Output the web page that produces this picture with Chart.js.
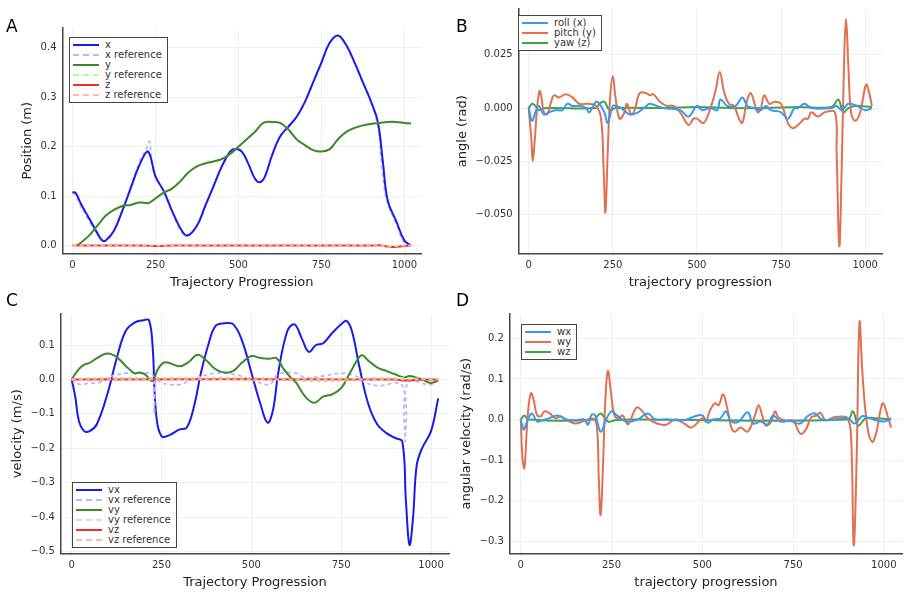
<!DOCTYPE html>
<html>
<head>
<meta charset="utf-8">
<script src="https://cdn.jsdelivr.net/npm/chart.js@4"></script>
<style>
  body { margin: 0; background: #fff; font-family: "DejaVu Sans", sans-serif; }
  #wrap { position: relative; width: 906px; height: 594px; }
  .panel { position: absolute; }
  .letter { position: absolute; font-size: 17px; color: #000; }
  .legend { position: absolute; border: 1px solid #444; background: #fff; padding: 2px 5px 2px 3px; font-size: 10px; color: #333; line-height: 10px; }
  .legend .row { display: flex; align-items: center; white-space: nowrap; }
  .legend .sw { width: 26px; margin-right: 6px; height: 0; }
</style>
</head>
<body>
<div id="wrap">
  <div class="panel" style="left:0;top:0;width:453px;height:294px"><canvas id="chartA"></canvas></div>
  <div class="panel" style="left:453px;top:0;width:453px;height:294px"><canvas id="chartB"></canvas></div>
  <div class="panel" style="left:0;top:294px;width:453px;height:300px"><canvas id="chartC"></canvas></div>
  <div class="panel" style="left:453px;top:294px;width:453px;height:300px"><canvas id="chartD"></canvas></div>
  <div class="letter" style="left:6px;top:16px">A</div>
  <div class="letter" style="left:456px;top:16px">B</div>
  <div class="letter" style="left:6px;top:290px">C</div>
  <div class="letter" style="left:456px;top:290px">D</div>
  <div class="legend" id="legA" style="left:69px;top:37px"></div>
  <div class="legend" id="legB" style="left:518px;top:15px"></div>
  <div class="legend" id="legC" style="left:72px;top:482px"></div>
  <div class="legend" id="legD" style="left:521px;top:324px"></div>
</div>
<script>
// ---- data: [trajectory index, value] ----
const xPos = [[0,0.108],[10,0.106],[25,0.085],[50,0.055],[75,0.025],[90,0.01],[100,0.01],[125,0.03],[150,0.07],[175,0.115],[200,0.16],[225,0.19],[235,0.18],[250,0.14],[275,0.11],[300,0.07],[325,0.035],[345,0.02],[375,0.04],[400,0.08],[425,0.12],[450,0.16],[475,0.19],[490,0.195],[510,0.19],[530,0.165],[550,0.135],[565,0.128],[580,0.14],[600,0.18],[625,0.22],[650,0.24],[675,0.26],[700,0.29],[725,0.33],[750,0.37],[775,0.41],[800,0.425],[825,0.405],[850,0.37],[875,0.33],[900,0.29],[920,0.25],[935,0.17],[950,0.09],[975,0.05],[1000,0.01],[1020,0.0]];
const xRef = [[0,0.108],[10,0.1],[25,0.08],[50,0.05],[75,0.022],[90,0.01],[100,0.01],[125,0.03],[150,0.07],[175,0.118],[200,0.165],[225,0.2],[232,0.21],[240,0.16],[250,0.14],[275,0.108],[300,0.068],[325,0.032],[345,0.02],[375,0.04],[400,0.08],[425,0.12],[450,0.16],[475,0.19],[490,0.195],[510,0.19],[530,0.165],[550,0.135],[565,0.128],[580,0.14],[600,0.18],[625,0.22],[650,0.24],[675,0.26],[700,0.29],[725,0.33],[750,0.37],[775,0.41],[800,0.425],[825,0.405],[850,0.37],[875,0.33],[900,0.29],[920,0.24],[935,0.14],[950,0.085],[975,0.045],[1000,0.005],[1020,0.0]];
const yPos = [[15,0],[50,0.02],[75,0.04],[100,0.06],[125,0.072],[150,0.08],[175,0.082],[200,0.087],[230,0.086],[250,0.095],[275,0.107],[300,0.115],[325,0.13],[350,0.148],[375,0.16],[400,0.166],[425,0.17],[450,0.175],[475,0.185],[500,0.2],[525,0.215],[550,0.23],[575,0.248],[600,0.25],[625,0.248],[650,0.235],[675,0.215],[700,0.203],[725,0.193],[750,0.19],[775,0.195],[800,0.215],[825,0.23],[850,0.238],[875,0.243],[900,0.246],[925,0.248],[950,0.25],[975,0.25],[1000,0.248],[1020,0.247]];
const yRef = yPos;
const zPos = [[0,0],[200,0],[260,-0.001],[300,0],[900,0],[930,0],[960,-0.003],[1000,-0.001],[1020,0]];
const zRef = [[0,0],[300,0],[920,0],[960,-0.002],[1000,0],[1020,0]];

const roll = [[0,0],[10,-0.006],[20,-0.002],[30,0.001],[45,-0.003],[60,-0.002],[80,-0.001],[100,-0.001],[115,0.002],[130,0.001],[155,0.001],[170,0],[180,-0.002],[200,0.003],[210,0.002],[225,-0.002],[235,-0.007],[250,0.001],[260,0.001],[275,0],[300,-0.003],[325,-0.002],[350,0.001],[360,0.002],[400,0],[450,-0.001],[475,-0.004],[500,0.001],[515,-0.001],[540,0],[560,-0.001],[570,0.004],[590,0.001],[615,0.001],[635,0.005],[650,0.001],[670,0],[690,-0.001],[705,0.001],[720,-0.001],[750,-0.002],[770,-0.005],[790,0],[800,0],[820,0.002],[840,0],[900,0],[915,0.001],[930,-0.001],[950,0.002],[975,0.001],[1000,-0.001],[1020,0]];
const pitch = [[0,0],[8,-0.015],[12,-0.025],[18,-0.015],[25,0],[32,0.008],[38,0.005],[45,-0.002],[55,-0.003],[65,0.002],[75,0.006],[90,0.005],[110,0.0065],[130,0.005],[150,0.002],[175,0.002],[200,0.001],[215,-0.005],[223,-0.03],[228,-0.049],[235,-0.02],[242,0.005],[250,0.015],[258,0.005],[270,-0.005],[285,-0.002],[292,0.002],[305,-0.003],[315,-0.001],[330,0.007],[350,0.007],[360,0.006],[370,0.0065],[390,0.003],[410,0.001],[430,0.001],[450,-0.002],[475,-0.008],[490,-0.005],[500,-0.005],[520,-0.007],[540,0],[555,0.008],[568,0.017],[580,0.008],[595,0.002],[610,0.001],[625,-0.005],[635,-0.007],[648,0.003],[660,0.007],[680,-0.002],[690,0],[700,0.006],[715,0.002],[730,0.003],[750,0.002],[770,-0.007],[785,-0.0095],[800,-0.008],[820,-0.005],[830,-0.005],[840,-0.002],[860,-0.004],[880,-0.002],[910,-0.002],[915,-0.02],[923,-0.065],[930,-0.03],[937,0.02],[943,0.042],[950,0.02],[958,-0.002],[970,-0.006],[985,-0.002],[1000,0.01],[1005,0.011],[1015,0.005],[1020,0.001]];
const yaw = [[0,0],[10,0.002],[20,0.001],[30,-0.001],[50,0],[200,0],[210,0.002],[225,0.003],[240,-0.001],[260,0],[400,0],[500,0.0005],[600,0],[700,0],[800,0.0005],[900,0.0005],[920,0.004],[935,-0.002],[950,0],[970,0.001],[1020,0.0005]];

const vx = [[0,0],[10,-0.05],[20,-0.12],[35,-0.15],[50,-0.15],[70,-0.13],[100,-0.04],[125,0.06],[150,0.14],[175,0.165],[200,0.172],[215,0.172],[225,0.1],[235,-0.1],[250,-0.165],[275,-0.16],[300,-0.145],[320,-0.14],[340,-0.08],[360,0.02],[380,0.1],[400,0.155],[425,0.163],[450,0.16],[475,0.11],[500,0.02],[525,-0.07],[545,-0.125],[560,-0.09],[575,0.02],[600,0.14],[620,0.16],[640,0.12],[660,0.08],[680,0.1],[700,0.105],[725,0.135],[750,0.16],[765,0.17],[780,0.14],[800,0.04],[825,-0.07],[850,-0.13],[875,-0.155],[900,-0.17],[920,-0.18],[930,-0.35],[940,-0.48],[950,-0.4],[960,-0.25],[975,-0.2],[1000,-0.15],[1020,-0.055]];
const vxRef = [[0,0],[25,-0.015],[50,-0.01],[75,-0.01],[100,0.005],[150,0.018],[200,0.018],[225,0.015],[230,-0.1],[235,0],[250,-0.01],[275,-0.015],[300,-0.015],[350,0.005],[400,0.018],[450,0.015],[500,0],[550,-0.015],[575,0.015],[625,0.018],[650,0.005],[700,0.01],[750,0.018],[790,0.01],[820,-0.01],[850,-0.018],[920,-0.018],[928,-0.18],[935,-0.01],[1000,-0.015],[1020,0]];
const vy = [[0,0],[20,0.03],[35,0.043],[50,0.048],[75,0.065],[100,0.075],[125,0.065],[150,0.04],[175,0.018],[190,0.02],[205,0.014],[225,-0.005],[240,0.03],[260,0.05],[300,0.038],[325,0.05],[350,0.072],[375,0.055],[400,0.03],[425,0.02],[450,0.025],[475,0.05],[500,0.068],[525,0.062],[550,0.06],[570,0.062],[590,0.03],[610,0.005],[625,-0.01],[650,-0.05],[675,-0.068],[700,-0.05],[725,-0.043],[750,-0.025],[775,0.02],[800,0.065],[810,0.07],[825,0.055],[850,0.035],[875,0.025],[900,0.015],[925,0.006],[940,0.01],[960,0.005],[975,0],[1000,-0.01],[1020,-0.003]];
const vyRef = [[0,0],[100,0.005],[300,0.005],[500,0.005],[650,-0.005],[750,-0.005],[850,0.005],[1020,0]];
const vz = [[0,0],[900,0],[925,-0.003],[960,-0.001],[1020,0]];
const vzRef = [[0,0],[1020,0]];

const wx = [[0,0],[8,-0.025],[15,-0.01],[30,0.015],[45,-0.005],[55,-0.003],[75,0.002],[100,0.01],[125,0],[150,-0.002],[175,0],[185,-0.013],[195,0.012],[205,0.01],[220,-0.03],[235,0],[250,0.02],[265,0.01],[290,-0.005],[320,-0.001],[350,0.015],[370,0],[400,0],[450,-0.002],[480,0.008],[500,0.01],[515,-0.008],[530,0],[550,0.003],[565,0.02],[580,-0.005],[600,-0.005],[625,0.018],[640,-0.01],[660,-0.005],[680,-0.012],[695,0.01],[715,-0.005],[740,-0.003],[770,-0.01],[790,0.008],[810,0.015],[830,0],[860,0],[900,0.003],[920,-0.01],[940,0.008],[960,0.003],[1000,-0.005],[1020,0.003]];
const wy = [[0,0],[5,-0.1],[10,-0.12],[15,-0.05],[20,0.02],[28,0.065],[35,0.05],[45,0.01],[55,0.008],[65,0.02],[80,0.015],[95,0.003],[110,0.008],[125,-0.001],[150,-0.01],[175,-0.003],[200,0.002],[210,-0.02],[215,-0.15],[220,-0.235],[227,-0.1],[233,0.05],[240,0.12],[248,0.07],[258,0.01],[270,0.003],[280,0.01],[295,-0.012],[305,0.005],[320,0.03],[335,0.02],[350,0.003],[375,-0.01],[400,-0.013],[425,0],[450,-0.01],[470,-0.02],[490,-0.005],[500,0.003],[510,-0.005],[520,0.02],[535,0.04],[545,0.035],[557,0.062],[568,0.03],[580,-0.02],[590,-0.03],[605,-0.02],[625,-0.03],[645,0.01],[655,0.035],[665,0.01],[675,-0.015],[690,-0.005],[700,0.02],[710,0.005],[730,-0.003],[750,-0.003],[770,-0.035],[785,-0.025],[800,0.005],[815,0.01],[825,0.017],[840,-0.002],[860,0.005],[875,0.007],[900,0.003],[910,-0.05],[917,-0.31],[925,-0.1],[933,0.24],[942,0.1],[955,-0.02],[968,-0.055],[980,-0.03],[990,0.02],[998,0.04],[1010,0.01],[1020,-0.02]];
const wz = [[0,0],[10,0.01],[20,0],[200,0],[220,0.015],[240,-0.005],[260,-0.002],[300,0],[900,0],[915,0.02],[930,-0.015],[950,0.003],[980,0.003],[1020,0]];

const xTicks = [0, 250, 500, 750, 1000];
const ticksA = [0, 0.1, 0.2, 0.3, 0.4];
const ticksB = [-0.05, -0.025, 0, 0.025];
const ticksC = [-0.5, -0.4, -0.3, -0.2, -0.1, 0, 0.1];
const ticksD = [-0.3, -0.2, -0.1, 0, 0.1, 0.2];

const BLUE = '#1a1aee', BLUE_R = '#b8b8ff', GREEN = '#3a8a2a', GREEN_R = '#bff0b8', RED = '#f03020', RED_R = '#ffb8b0';
const J1 = '#3a98f0', J2 = '#e07050', J3 = '#44a04c';

function pts(arr) { return arr.map(p => ({ x: p[0], y: p[1] })); }
function line(label, arr, color, dashed) {
  return { label, data: pts(arr), borderColor: color, borderWidth: dashed ? 1.8 : 2,
    borderDash: dashed ? [4, 3] : [], pointRadius: 0, tension: 0.4, fill: false };
}

function makeChart(id, datasets, yTitle, xTitle, yMin, yMax, yTicks, fmt, pad) {
  const tickFont = { family: 'DejaVu Sans', size: 10 };
  new Chart(document.getElementById(id), {
    type: 'line',
    data: { datasets },
    options: {
      responsive: true, maintainAspectRatio: false, animation: false,
      layout: { padding: pad },
      plugins: { legend: { display: false }, tooltip: { enabled: false } },
      scales: {
        x: {
          type: 'linear', min: -30, max: 1050,
          afterBuildTicks: s => { s.ticks = xTicks.map(v => ({ value: v })); },
          ticks: { font: tickFont, color: '#333', maxRotation: 0, callback: v => String(v) },
          grid: { color: '#efefef', tickLength: 3 },
          border: { color: '#444', width: 1.5 },
          title: { display: true, text: xTitle, font: { family: 'DejaVu Sans', size: 13 }, color: '#222', padding: 0 }
        },
        y: {
          min: yMin, max: yMax,
          afterBuildTicks: s => { s.ticks = yTicks.map(v => ({ value: v })); },
          ticks: { font: tickFont, color: '#333', callback: v => fmt(v).replace('-', '\u2212') },
          grid: { color: '#efefef', tickLength: 3 },
          border: { color: '#444', width: 1.5 },
          title: { display: true, text: yTitle, font: { family: 'DejaVu Sans', size: 13 }, color: '#222', padding: 2 }
        }
      }
    }
  });
}

function legend(id, items) {
  document.getElementById(id).innerHTML = items.map(it =>
    `<div class="row"><span class="sw" style="border-top:2px ${it[2] ? 'dashed' : 'solid'} ${it[1]}"></span>${it[0]}</div>`).join('');
}

makeChart('chartA', [
  line('z reference', zRef, RED_R, true), line('z', zPos, RED, false),
  line('y', yPos, GREEN, false), line('y reference', yRef, GREEN_R, true),
  line('x', xPos, BLUE, false), line('x reference', xRef, BLUE_R, true)
], 'Position (m)', 'Trajectory Progression', -0.016, 0.44, ticksA, v => v.toFixed(1), { left: 18, top: 28, right: 32, bottom: 4 });
legend('legA', [['x', BLUE], ['x reference', BLUE_R, 1], ['y', GREEN], ['y reference', GREEN_R, 1], ['z', RED], ['z reference', RED_R, 1]]);

makeChart('chartB', [
  line('roll (x)', roll, J1, false), line('pitch (y)', pitch, J2, false), line('yaw (z)', yaw, J3, false)
], 'angle (rad)', 'trajectory progression', -0.0684, 0.0466, ticksB, v => v.toFixed(3), { left: 0, top: 5, right: 24, bottom: 4 });
legend('legB', [['roll (x)', J1], ['pitch (y)', J2], ['yaw (z)', J3]]);

makeChart('chartC', [
  line('vz reference', vzRef, RED_R, true), line('vz', vz, RED, false),
  line('vy reference', vyRef, GREEN_R, true), line('vy', vy, GREEN, false),
  line('vx reference', vxRef, BLUE_R, true), line('vx', vx, BLUE, false)
], 'velocity (m/s)', 'Trajectory Progression', -0.505, 0.19, ticksC, v => v.toFixed(1), { left: 8, top: 20, right: 4, bottom: 4 });
legend('legC', [['vx', BLUE], ['vx reference', BLUE_R, 1], ['vy', GREEN], ['vy reference', GREEN_R, 1], ['vz', RED], ['vz reference', RED_R, 1]]);

makeChart('chartD', [
  line('wx', wx, J1, false), line('wy', wy, J2, false), line('wz', wz, J3, false)
], 'angular velocity (rad/s)', 'trajectory progression', -0.33, 0.26, ticksD, v => v.toFixed(1), { left: 4, top: 20, right: 4, bottom: 4 });
legend('legD', [['wx', J1], ['wy', J2], ['wz', J3]]);
</script>
</body>
</html>
